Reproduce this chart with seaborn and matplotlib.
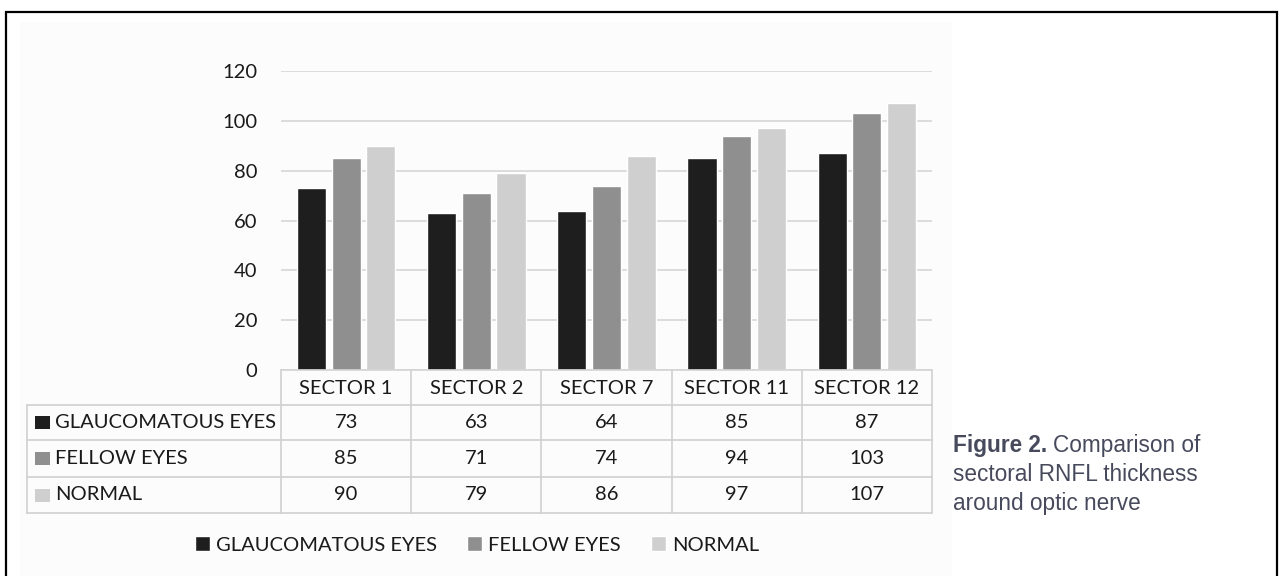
import matplotlib
matplotlib.use("Agg")
import matplotlib.pyplot as plt
from matplotlib.patches import Rectangle
from matplotlib.lines import Line2D
from matplotlib import font_manager as fm
import os
import seaborn as sns
import pandas as pd

# ---- data ----
sectors = ["SECTOR 1", "SECTOR 2", "SECTOR 7", "SECTOR 11", "SECTOR 12"]
groups = ["GLAUCOMATOUS EYES", "FELLOW EYES", "NORMAL"]
glaucomatous = [73, 63, 64, 85, 87]
fellow = [85, 71, 74, 94, 103]
normal = [90, 79, 86, 97, 107]
yticks = [0, 20, 40, 60, 80, 100, 120]
caption_bold = "Figure 2."
caption_lines = ["Comparison of", "sectoral RNFL thickness", "around optic nerve"]

series = [glaucomatous, fellow, normal]
colors = ["#1e1e1e", "#8f8f8f", "#cfcfcf"]

rows = []
for g, vals in zip(groups, series):
    for s, v in zip(sectors, vals):
        rows.append({"sector": s, "group": g, "value": v})
df = pd.DataFrame(rows)

sns.set_style("white")
plt.rcParams["font.family"] = ["Lato", "DejaVu Sans"]

# locate the regular-width Liberation Sans files (avoid the Narrow variant)
def find_font(name):
    for f in fm.findSystemFonts():
        if os.path.basename(f) == name:
            return f
    return None

reg_file = find_font("LiberationSans-Regular.ttf")
bold_file = find_font("LiberationSans-Bold.ttf")

def cap_props(size, bold=False):
    f = bold_file if bold else reg_file
    if f:
        return fm.FontProperties(fname=f, size=size)
    return fm.FontProperties(family="DejaVu Sans", size=size,
                             weight="bold" if bold else "normal")

W, H = 1282, 576
fig = plt.figure(figsize=(W / 100, H / 100), dpi=100)
fig.patch.set_facecolor("white")

def fx(x):
    return x / W

def fy(y):
    return 1 - y / H

# faint chart background and outer frame
fig.patches.append(Rectangle((fx(20), fy(578)), fx(952) - fx(20), (578 - 22) / H,
                             transform=fig.transFigure, facecolor="#fcfcfc",
                             edgecolor="none", zorder=-5))
fig.patches.append(Rectangle((fx(6), fy(590)), fx(1277) - fx(6), (590 - 12) / H,
                             transform=fig.transFigure, facecolor="none",
                             edgecolor="black", linewidth=1.6, zorder=5))

ax_top, ax_bot = 71, 370
ax = fig.add_axes([fx(281), fy(ax_bot), fx(932) - fx(281), (ax_bot - ax_top) / H])
ax.set_facecolor("none")

sns.barplot(data=df, x="sector", y="value", hue="group", hue_order=groups,
            order=sectors, palette=colors, width=0.8, gap=0.16,
            saturation=1, ax=ax, legend=False)

ax.set_ylim(0, 120)
ax.set_xlim(-0.5, len(sectors) - 0.5)
ax.set_yticks(yticks)
ax.yaxis.grid(True, color="#d9d9d9", linewidth=1.3)
ax.set_axisbelow(True)
for s in ["left", "right", "top"]:
    ax.spines[s].set_visible(False)
ax.spines["bottom"].set_color("#d4d4d4")
ax.spines["bottom"].set_linewidth(1.2)
ax.set_xlabel("")
ax.set_ylabel("")
ax.tick_params(axis="y", length=0, pad=17, labelsize=14.5, labelcolor="#1a1a1a")
ax.tick_params(axis="x", length=0, pad=7, labelsize=14.5, labelcolor="#1a1a1a")

# ---- data table ----
ax_h = ax_bot - ax_top
def ay(ypix):
    return (ax_bot - ypix) / ax_h

xt = ax.get_xaxis_transform()
row_bounds = [405, 440, 477, 513]
line_c = "#d0d0d0"
for i in range(len(sectors) + 1):
    ax.plot([i - 0.5, i - 0.5], [0, ay(row_bounds[-1])], transform=xt,
            color=line_c, lw=1.2, clip_on=False)
for yb in row_bounds:
    fig.add_artist(Line2D([fx(27), fx(932)], [fy(yb), fy(yb)],
                          transform=fig.transFigure, color=line_c, lw=1.2))
fig.add_artist(Line2D([fx(27), fx(27)], [fy(405), fy(513)],
                      transform=fig.transFigure, color=line_c, lw=1.2))

for r, (g, vals, c) in enumerate(zip(groups, series, colors)):
    yc = (row_bounds[r] + row_bounds[r + 1]) / 2
    fig.patches.append(Rectangle((fx(35), fy(yc + 6.5)), fx(50) - fx(35), 13 / H,
                                 transform=fig.transFigure, facecolor=c,
                                 edgecolor="none"))
    fig.text(fx(55), fy(yc), g, ha="left", va="center", fontsize=14.5,
             color="#1a1a1a")
    for i, v in enumerate(vals):
        ax.text(i, ay(yc), str(v), transform=xt, ha="center", va="center",
                fontsize=14.5, color="#1a1a1a")

# ---- legend ----
leg = fig.legend(ax.containers, groups, loc="center",
                 bbox_to_anchor=(fx(477), fy(545)), ncol=3, frameon=False,
                 fontsize=14.5, handlelength=0.75, handleheight=0.75,
                 handletextpad=0.3, columnspacing=1.5)
for t in leg.get_texts():
    t.set_color("#1a1a1a")

# ---- caption ----
cap_c = "#474a5c"
cap_fs = 16.3
base = [452, 481, 510]
t1 = fig.text(fx(953), fy(base[0]), caption_bold, fontproperties=cap_props(cap_fs, True),
              color=cap_c, va="baseline", ha="left")
fig.canvas.draw()
bb = t1.get_window_extent()
fig.text(bb.x1 / W + 6 / W, fy(base[0]), caption_lines[0],
         fontproperties=cap_props(cap_fs), color=cap_c, va="baseline", ha="left")
for line, yb in zip(caption_lines[1:], base[1:]):
    fig.text(fx(953), fy(yb), line, fontproperties=cap_props(cap_fs), color=cap_c,
             va="baseline", ha="left")

fig.savefig("out.png", dpi=100)
